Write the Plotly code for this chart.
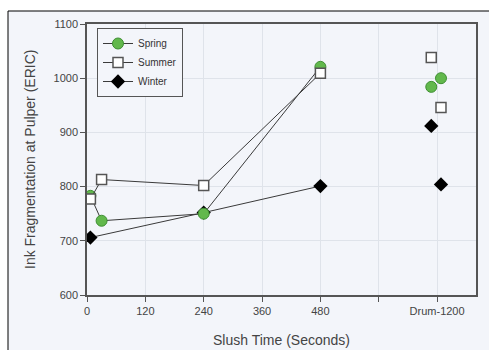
import plotly.graph_objects as go

# Data
x_main = [7, 30, 240, 480]
x_drum = [708, 728]
spring_main = [783, 737, 750, 1021]
spring_drum = [984, 1000]
summer_main = [777, 813, 802, 1009]
summer_drum = [1038, 946]
winter_x = [7, 240, 480]
winter_main = [706, 752, 801]
winter_drum = [912, 804]

tick_vals = [0, 120, 240, 360, 480, 600, 720]
tick_text = ["0", "120", "240", "360", "480", "", "Drum-1200"]
y_ticks = [600, 700, 800, 900, 1000, 1100]

BG = "#f3f5fa"
LINE = "#3a3a3a"

def join(xa, ya, xb, yb):
    xs, ys = list(xa), list(ya)
    for a, b in zip(xb, yb):
        xs += [None, a]
        ys += [None, b]
    return xs, ys

fig = go.Figure()

wx, wy = join(winter_x, winter_main, x_drum, winter_drum)
fig.add_trace(go.Scatter(x=wx, y=wy, mode="lines+markers", name="Winter",
                         connectgaps=False, legendrank=3,
                         line=dict(color=LINE, width=1),
                         marker=dict(symbol="diamond", size=11, color="black",
                                     line=dict(color="black", width=0))))
sx, sy = join(x_main, spring_main, x_drum, spring_drum)
fig.add_trace(go.Scatter(x=sx, y=sy, mode="lines+markers", name="Spring",
                         connectgaps=False, legendrank=1,
                         line=dict(color=LINE, width=1),
                         marker=dict(symbol="circle", size=11, color="#62b84c",
                                     line=dict(color="#3f8f33", width=1))))
ux, uy = join(x_main, summer_main, x_drum, summer_drum)
fig.add_trace(go.Scatter(x=ux, y=uy, mode="lines+markers", name="Summer",
                         connectgaps=False, legendrank=2,
                         line=dict(color=LINE, width=1),
                         marker=dict(symbol="square", size=10, color="white",
                                     line=dict(color="#555555", width=1.5))))

L, R, T, B = 87, 476, 24, 295
W, H = 489, 350
pw, ph = R - L, B - T

def px_x(p):
    return (p - L) / pw

def px_y(p):
    return (B - p) / ph

fig.add_shape(type="rect", xref="paper", yref="paper",
              x0=px_x(8), x1=px_x(520), y0=px_y(380), y1=px_y(11),
              fillcolor=BG, line=dict(color="black", width=1), layer="below")

fig.add_annotation(text="Ink Fragmentation at Pulper (ERIC)", xref="paper", yref="paper",
                   x=px_x(30), y=px_y(160), textangle=-90, showarrow=False,
                   xanchor="center", yanchor="middle",
                   font=dict(size=14, color="#444444"))
fig.add_annotation(text="Slush Time (Seconds)", xref="paper", yref="paper",
                   x=px_x(281), y=px_y(340), showarrow=False,
                   xanchor="center", yanchor="middle",
                   font=dict(size=14, color="#444444"))

fig.update_layout(
    width=W, height=H,
    margin=dict(l=L, r=W - R, t=T, b=H - B),
    paper_bgcolor="white",
    plot_bgcolor=BG,
    font=dict(family="Arial, Liberation Sans, sans-serif", color="#444444"),
    showlegend=True,
    legend=dict(x=px_x(97), y=px_y(28), xanchor="left", yanchor="top",
                bgcolor=BG, bordercolor="#555555", borderwidth=1,
                font=dict(size=10, color="#333333"),
                tracegroupgap=0, itemwidth=30, traceorder="normal"),
)

fig.update_xaxes(range=[0, 800], tickvals=tick_vals, ticktext=tick_text,
                 showgrid=True, gridcolor="#dfe3ea", gridwidth=1,
                 showline=True, linecolor="#555555", linewidth=1.5, mirror=True,
                 ticks="outside", ticklen=5, tickcolor="#555555",
                 tickfont=dict(size=11, color="#444444"),
                 zeroline=False, automargin=False)
fig.update_yaxes(range=[600, 1100], tickvals=y_ticks,
                 showgrid=True, gridcolor="#dfe3ea", gridwidth=1,
                 showline=True, linecolor="#555555", linewidth=1.5, mirror=True,
                 ticks="outside", ticklen=5, tickcolor="#555555",
                 tickfont=dict(size=11, color="#444444"),
                 zeroline=False, automargin=False)

fig.write_html("out.html")
